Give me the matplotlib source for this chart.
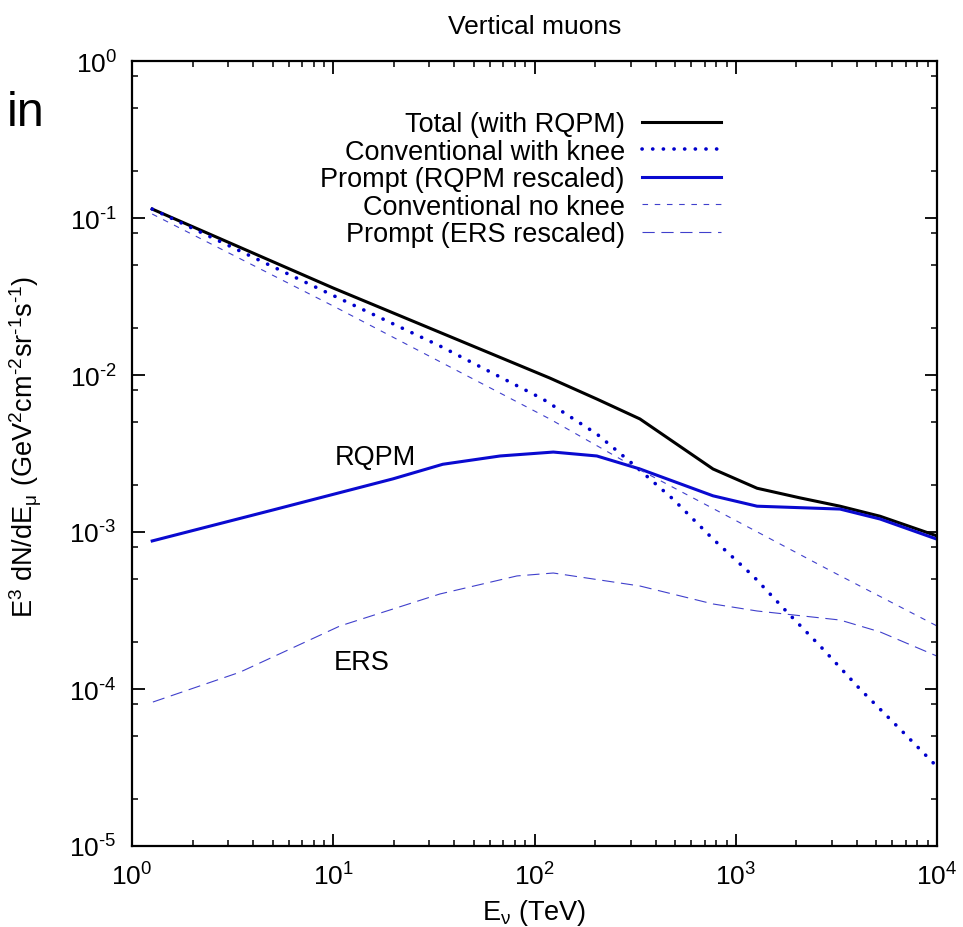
import numpy as np
import matplotlib
matplotlib.use("Agg")
import matplotlib.pyplot as plt
from matplotlib.ticker import LogLocator, FuncFormatter, NullFormatter

plt.rcParams['font.family'] = ['Liberation Sans', 'DejaVu Sans']
plt.rcParams['mathtext.fontset'] = 'custom'
plt.rcParams['mathtext.rm'] = 'Liberation Sans'
plt.rcParams['mathtext.it'] = 'Liberation Sans:italic'
plt.rcParams['mathtext.sf'] = 'Liberation Sans'
plt.rcParams['axes.unicode_minus'] = False

# ---- data ----
total_E = [1.26, 10.0, 119, 204, 334, 771, 1276, 2084, 3296, 5212, 10000]
total_v = [0.114, 0.0358, 0.00957, 0.00703, 0.00525, 0.00252, 0.0019, 0.00165, 0.00146, 0.00126, 0.000944]

knee_E = [1.26, 9.64, 33.9, 110, 204, 308, 488, 771, 1219, 1799, 2624, 4140, 6546, 10000]
knee_v = [0.114, 0.0328, 0.0153, 0.00703, 0.00421, 0.00271, 0.00162, 0.000902, 0.000525, 0.000309, 0.000188, 0.0001, 5.56e-5, 3.2e-5]

rqpm_E = [1.26, 5.0, 19.8, 35.0, 67.5, 124, 204, 334, 771, 1276, 3296, 5212, 10000]
rqpm_v = [0.000877, 0.00138, 0.00218, 0.0027, 0.00305, 0.00323, 0.00305, 0.00252, 0.0017, 0.00146, 0.0014, 0.00121, 0.0009]

noknee_E = [1.26, 10.0, 119, 308, 968, 3041, 10000]
noknee_v = [0.106, 0.0275, 0.00525, 0.00263, 0.00121, 0.000556, 0.000252]

ers_E = [1.27, 3.44, 10.8, 33.9, 81.8, 124, 334, 771, 1276, 3296, 5212, 10000]
ers_v = [8.26e-5, 1.28e-4, 2.52e-4, 4.03e-4, 5.25e-4, 5.48e-4, 4.53e-4, 3.48e-4, 3.14e-4, 2.75e-4, 2.31e-4, 1.62e-4]

labels = ["Total (with RQPM)", "Conventional with knee", "Prompt (RQPM rescaled)",
          "Conventional no knee", "Prompt (ERS rescaled)"]

fig = plt.figure(figsize=(9.63, 9.28), dpi=100)
ax = fig.add_axes([132/963, 1-847/928, (937-132)/963, (847-62)/928])

ax.plot(total_E, total_v, color='black', lw=2.2, label=labels[0])
ax.plot(knee_E, knee_v, color='#0000cc', lw=2.6, linestyle=(0, (0.05, 2.9)),
        dash_capstyle='round', label=labels[1])
ax.plot(rqpm_E, rqpm_v, color='#0a0ad0', lw=2.2, label=labels[2])
ax.plot(noknee_E, noknee_v, color='#4040cc', lw=0.8, linestyle=(0, (5, 6)), label=labels[3])
ax.plot(ers_E, ers_v, color='#4040cc', lw=0.8, linestyle=(0, (11, 6)), label=labels[4])

ax.set_xscale('log')
ax.set_yscale('log')
ax.set_xlim(1, 1e4)
ax.set_ylim(1e-5, 1)


def fmt_func(v, p):
    e = int(round(np.log10(v)))
    if e < 0:
        return r'$\mathregular{10^{\text{-}%d}}$' % (-e)
    return r'$\mathregular{10^{%d}}$' % e


ax.xaxis.set_major_locator(LogLocator(base=10, numticks=10))
ax.xaxis.set_minor_locator(LogLocator(base=10, subs=np.arange(2, 10), numticks=20))
ax.yaxis.set_major_locator(LogLocator(base=10, numticks=10))
ax.yaxis.set_minor_locator(LogLocator(base=10, subs=[2, 5, 8], numticks=20))
fmt = FuncFormatter(fmt_func)
ax.xaxis.set_major_formatter(fmt)
ax.yaxis.set_major_formatter(fmt)
ax.xaxis.set_minor_formatter(NullFormatter())
ax.yaxis.set_minor_formatter(NullFormatter())

ax.tick_params(which='both', direction='in', top=True, right=True, labelsize=19)
ax.tick_params(which='major', length=9, width=1.3)
ax.tick_params(which='minor', length=4.5, width=1.1)
ax.tick_params(axis='x', which='major', pad=12)
ax.tick_params(axis='y', which='major', pad=11)
for s in ax.spines.values():
    s.set_linewidth(1.6)

ax.set_title("Vertical muons", fontsize=19, pad=20)
ax.set_xlabel(r'$\mathregular{E_{\nu}\ (TeV)}$', fontsize=19.5, labelpad=5)
ax.set_ylabel(r'$\mathregular{E^3\ dN/dE_{\mu}\ (GeV^2cm^{\text{-}2}sr^{\text{-}1}s^{\text{-}1})}$',
              fontsize=19.5)
ax.yaxis.set_label_coords(-(132-44)/805, 0.51)

ax.text(np.power(10, (375-132)/201.25), np.power(10, -(458-62)/157), "RQPM",
        fontsize=19.5, ha='center', va='center')
ax.text(np.power(10, (362-132)/201.25), np.power(10, -(663-62)/157), "ERS",
        fontsize=19.5, ha='center', va='center')

leg = ax.legend(loc='upper right', bbox_to_anchor=(721/963, 1-112/928),
                bbox_transform=fig.transFigure, frameon=False, markerfirst=False,
                fontsize=19.5, handlelength=2.9, handletextpad=0.65, labelspacing=0.06,
                borderpad=0, borderaxespad=0)

fig.text(7/963, 1-126/928, "in", fontsize=35, ha='left', va='baseline')

fig.savefig("out.png", dpi=100)
